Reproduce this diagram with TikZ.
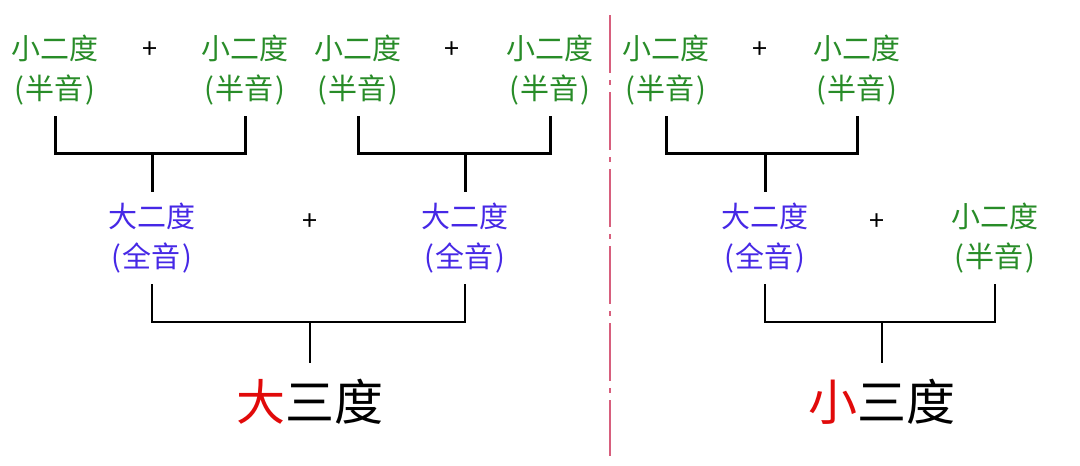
\documentclass[tikz,border=0pt]{standalone}
\usepackage{fontspec}
\newfontfamily\cjk{Noto Sans CJK SC}
\definecolor{sgreen}{RGB}{40,140,40}
\definecolor{sblue}{RGB}{70,40,230}
\definecolor{sred}{RGB}{225,10,10}
\definecolor{divc}{RGB}{215,95,125}
\newcommand{\hy}[1]{(\kern2pt#1\kern2pt)}
\begin{document}
\begin{tikzpicture}[x=1pt,y=-1pt,
  half/.style={text=sgreen, font=\cjk\fontsize{29}{40}\selectfont, align=center, inner xsep=0pt, inner ysep=11pt},
  whole/.style={text=sblue, font=\cjk\fontsize{29}{40}\selectfont, align=center, inner xsep=0pt, inner ysep=11pt},
  plus/.style={text=black, font=\cjk\fontsize{27}{27}\selectfont, inner sep=0pt},
  big/.style={text=black, font=\cjk\fontsize{49}{49}\selectfont, inner xsep=0pt, inner ysep=16pt},
  thickb/.style={draw=black, line width=3pt},
  thinb/.style={draw=black, line width=2pt},
  divider/.style={draw=divc, line width=1.6pt, dash pattern=on 58pt off 7pt on 5pt off 7pt}]
\useasboundingbox[fill=white] (0,0) rectangle (1080,466);
% top row
\node[half] (a1) at (55,70) {小二度\\\hy{半音}};
\node[plus] (p1) at (150,50) {+};
\node[half] (a2) at (245,70) {小二度\\\hy{半音}};
\node[half] (a3) at (358,70) {小二度\\\hy{半音}};
\node[plus] (p2) at (452,50) {+};
\node[half] (a4) at (550,70) {小二度\\\hy{半音}};
\node[half] (a5) at (666,70) {小二度\\\hy{半音}};
\node[plus] (p3) at (760,50) {+};
\node[half] (a6) at (857,70) {小二度\\\hy{半音}};
% middle row
\node[whole] (b1) at (152,238) {大二度\\\hy{全音}};
\node[plus] (p4) at (310,222) {+};
\node[whole] (b2) at (465,238) {大二度\\\hy{全音}};
\node[whole] (b3) at (765,238) {大二度\\\hy{全音}};
\node[plus] (p5) at (877,222) {+};
\node[half] (b4) at (995,238) {小二度\\\hy{半音}};
% bottom
\node[big] (c1) at (310,402) {\textcolor{sred}{大}三度};
\node[big] (c2) at (882,402) {\textcolor{sred}{小}三度};
% junctions
\coordinate (j1) at (b1.north |- 0,153);
\coordinate (j2) at (b2.north |- 0,153);
\coordinate (j3) at (b3.north |- 0,153);
\coordinate (k1) at (c1.north |- 0,322);
\coordinate (k2) at (c2.north |- 0,322);
% brackets
\draw[thickb] (a1.south) |- (j1) -| (a2.south);
\draw[thickb] (j1) -- (b1.north);
\draw[thickb] (a3.south) |- (j2) -| (a4.south);
\draw[thickb] (j2) -- (b2.north);
\draw[thickb] (a5.south) |- (j3) -| (a6.south);
\draw[thickb] (j3) -- (b3.north);
\draw[thinb] (b1.south) |- (k1) -| (b2.south);
\draw[thinb] (k1) -- (c1.north);
\draw[thinb] (b3.south) |- (k2) -| (b4.south);
\draw[thinb] (k2) -- (c2.north);
% divider
\coordinate (d1) at (610,15);
\coordinate (d2) at (610,456);
\draw[divider] (d1) -- (d2);
\end{tikzpicture}
\end{document}
